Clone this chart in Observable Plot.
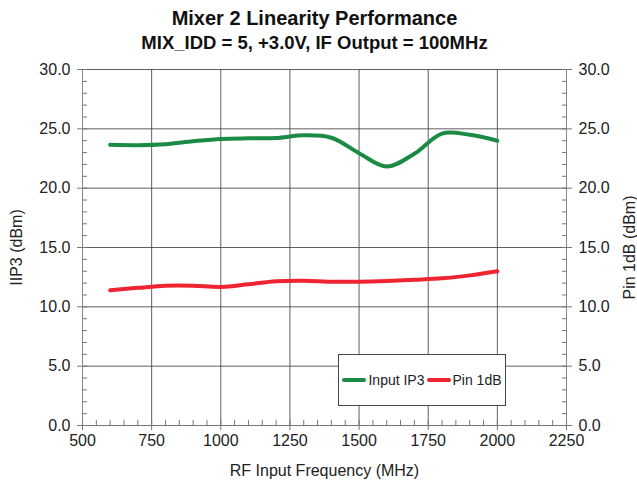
<!DOCTYPE html>
<html>
<head>
<meta charset="utf-8">
<script src="https://cdn.jsdelivr.net/npm/d3@7"></script>
<script src="https://cdn.jsdelivr.net/npm/@observablehq/plot@0.6"></script>
<style>
  html, body { margin: 0; padding: 0; background: #fff; }
  #wrap { position: relative; width: 637px; height: 482px; font-family: "Liberation Sans", Arial, sans-serif; }
  #titles { height: 58px; text-align: center; color: #111; font-weight: bold; padding-right: 8px; box-sizing: border-box; }
  #t1 { font-size: 20px; padding-top: 7px; line-height: 22px; }
  #t2 { font-size: 18.5px; padding-top: 4px; line-height: 20px; }
  #legend { position: absolute; left: 338px; top: 354px; width: 166px; height: 50px; border: 1px solid #444; background: #fff;
            display: flex; align-items: center; justify-content: center; font-size: 14px; color: #222; }
  .sw { display: inline-block; width: 24px; height: 4px; border-radius: 2px; margin-right: 2px; }
  .item { display: flex; align-items: center; margin: 0 1px; }
</style>
</head>
<body>
<div id="wrap">
  <div id="titles"><div id="t1">Mixer 2 Linearity Performance</div><div id="t2">MIX_IDD = 5, +3.0V, IF Output = 100MHz</div></div>
  <div id="chart"></div>
  <div id="legend"></div>
</div>
<script>
// Data
const freqMHz = [600, 700, 800, 900, 1000, 1100, 1200, 1300, 1400, 1500, 1600, 1700, 1800, 1900, 2000];
const inputIP3 = [23.65, 23.62, 23.7, 23.95, 24.15, 24.2, 24.22, 24.45, 24.25, 22.95, 21.82, 22.9, 24.6, 24.5, 24.0];
const pin1dB = [11.4, 11.6, 11.78, 11.78, 11.68, 11.9, 12.15, 12.2, 12.12, 12.12, 12.18, 12.28, 12.4, 12.65, 13.0];
const seriesNames = ["Input IP3", "Pin 1dB"];
const seriesColors = ["#1b8a45", "#ee2530"];
const xTicks = [500, 750, 1000, 1250, 1500, 1750, 2000, 2250];
const xMinorTicks = d3.range(500, 2251, 50);
const yTicks = [0, 5, 10, 15, 20, 25, 30];
const yMinorTicks = d3.range(0, 31, 1);

const rows = [];
freqMHz.forEach((f, i) => {
  rows.push({freq: f, value: inputIP3[i], series: seriesNames[0]});
  rows.push({freq: f, value: pin1dB[i], series: seriesNames[1]});
});

const fmt = d => d.toFixed(1);
const chart = Plot.plot({
  width: 637,
  height: 424,
  marginTop: 11,
  marginBottom: 57,
  marginLeft: 82,
  marginRight: 71,
  style: {fontFamily: "'Liberation Sans', Arial, sans-serif", fontSize: "14px", color: "#222", background: "transparent"},
  x: {domain: [500, 2250]},
  y: {domain: [0, 30]},
  color: {domain: seriesNames, range: seriesColors},
  marks: [
    Plot.gridX(xTicks.filter(d => d > 500 && d < 2250), {stroke: "#444", strokeOpacity: 0.85}),
    Plot.gridY(yTicks.filter(d => d > 0), {stroke: "#444", strokeOpacity: 0.85}),
    Plot.ruleX([500, 2250], {stroke: "#888"}),
    Plot.ruleY([0], {stroke: "#777"}),
    Plot.axisX(xMinorTicks, {tickSize: -5, fill: "none", stroke: "#777", label: null}),
    Plot.axisX(xTicks, {tickSize: 5, tickPadding: 4, stroke: "#777", tickFormat: d => String(d), label: "RF Input Frequency (MHz)", labelAnchor: "center", labelArrow: "none", labelOffset: 50, fontSize: 14}),
    Plot.axisY(yMinorTicks, {anchor: "left", tickSize: -5, fill: "none", stroke: "#777", label: null}),
    Plot.axisY(yMinorTicks, {anchor: "right", tickSize: -5, fill: "none", stroke: "#777", label: null}),
    Plot.axisY(yTicks, {anchor: "left", tickSize: 5, tickPadding: 7, stroke: "#777", tickFormat: fmt, label: "IIP3 (dBm)", labelAnchor: "center", labelArrow: "none", labelOffset: 72}),
    Plot.axisY(yTicks, {anchor: "right", tickSize: 5, tickPadding: 7, stroke: "#777", tickFormat: fmt, label: "Pin 1dB (dBm)", labelAnchor: "center", labelArrow: "none", labelOffset: 68}),
    Plot.line(rows, {x: "freq", y: "value", z: "series", stroke: "series", strokeWidth: 4, curve: "catmull-rom"})
  ]
});
document.getElementById("chart").appendChild(chart);
chart.querySelectorAll('[aria-label$="axis label"] text, g[aria-label$="label"] text').forEach(t => t.style.fontSize = "16px");

const legend = document.getElementById("legend");
seriesNames.forEach((name, i) => {
  const it = document.createElement("span");
  it.className = "item";
  const sw = document.createElement("span");
  sw.className = "sw";
  sw.style.background = seriesColors[i];
  it.appendChild(sw);
  it.appendChild(document.createTextNode(name));
  legend.appendChild(it);
});
</script>
</body>
</html>
